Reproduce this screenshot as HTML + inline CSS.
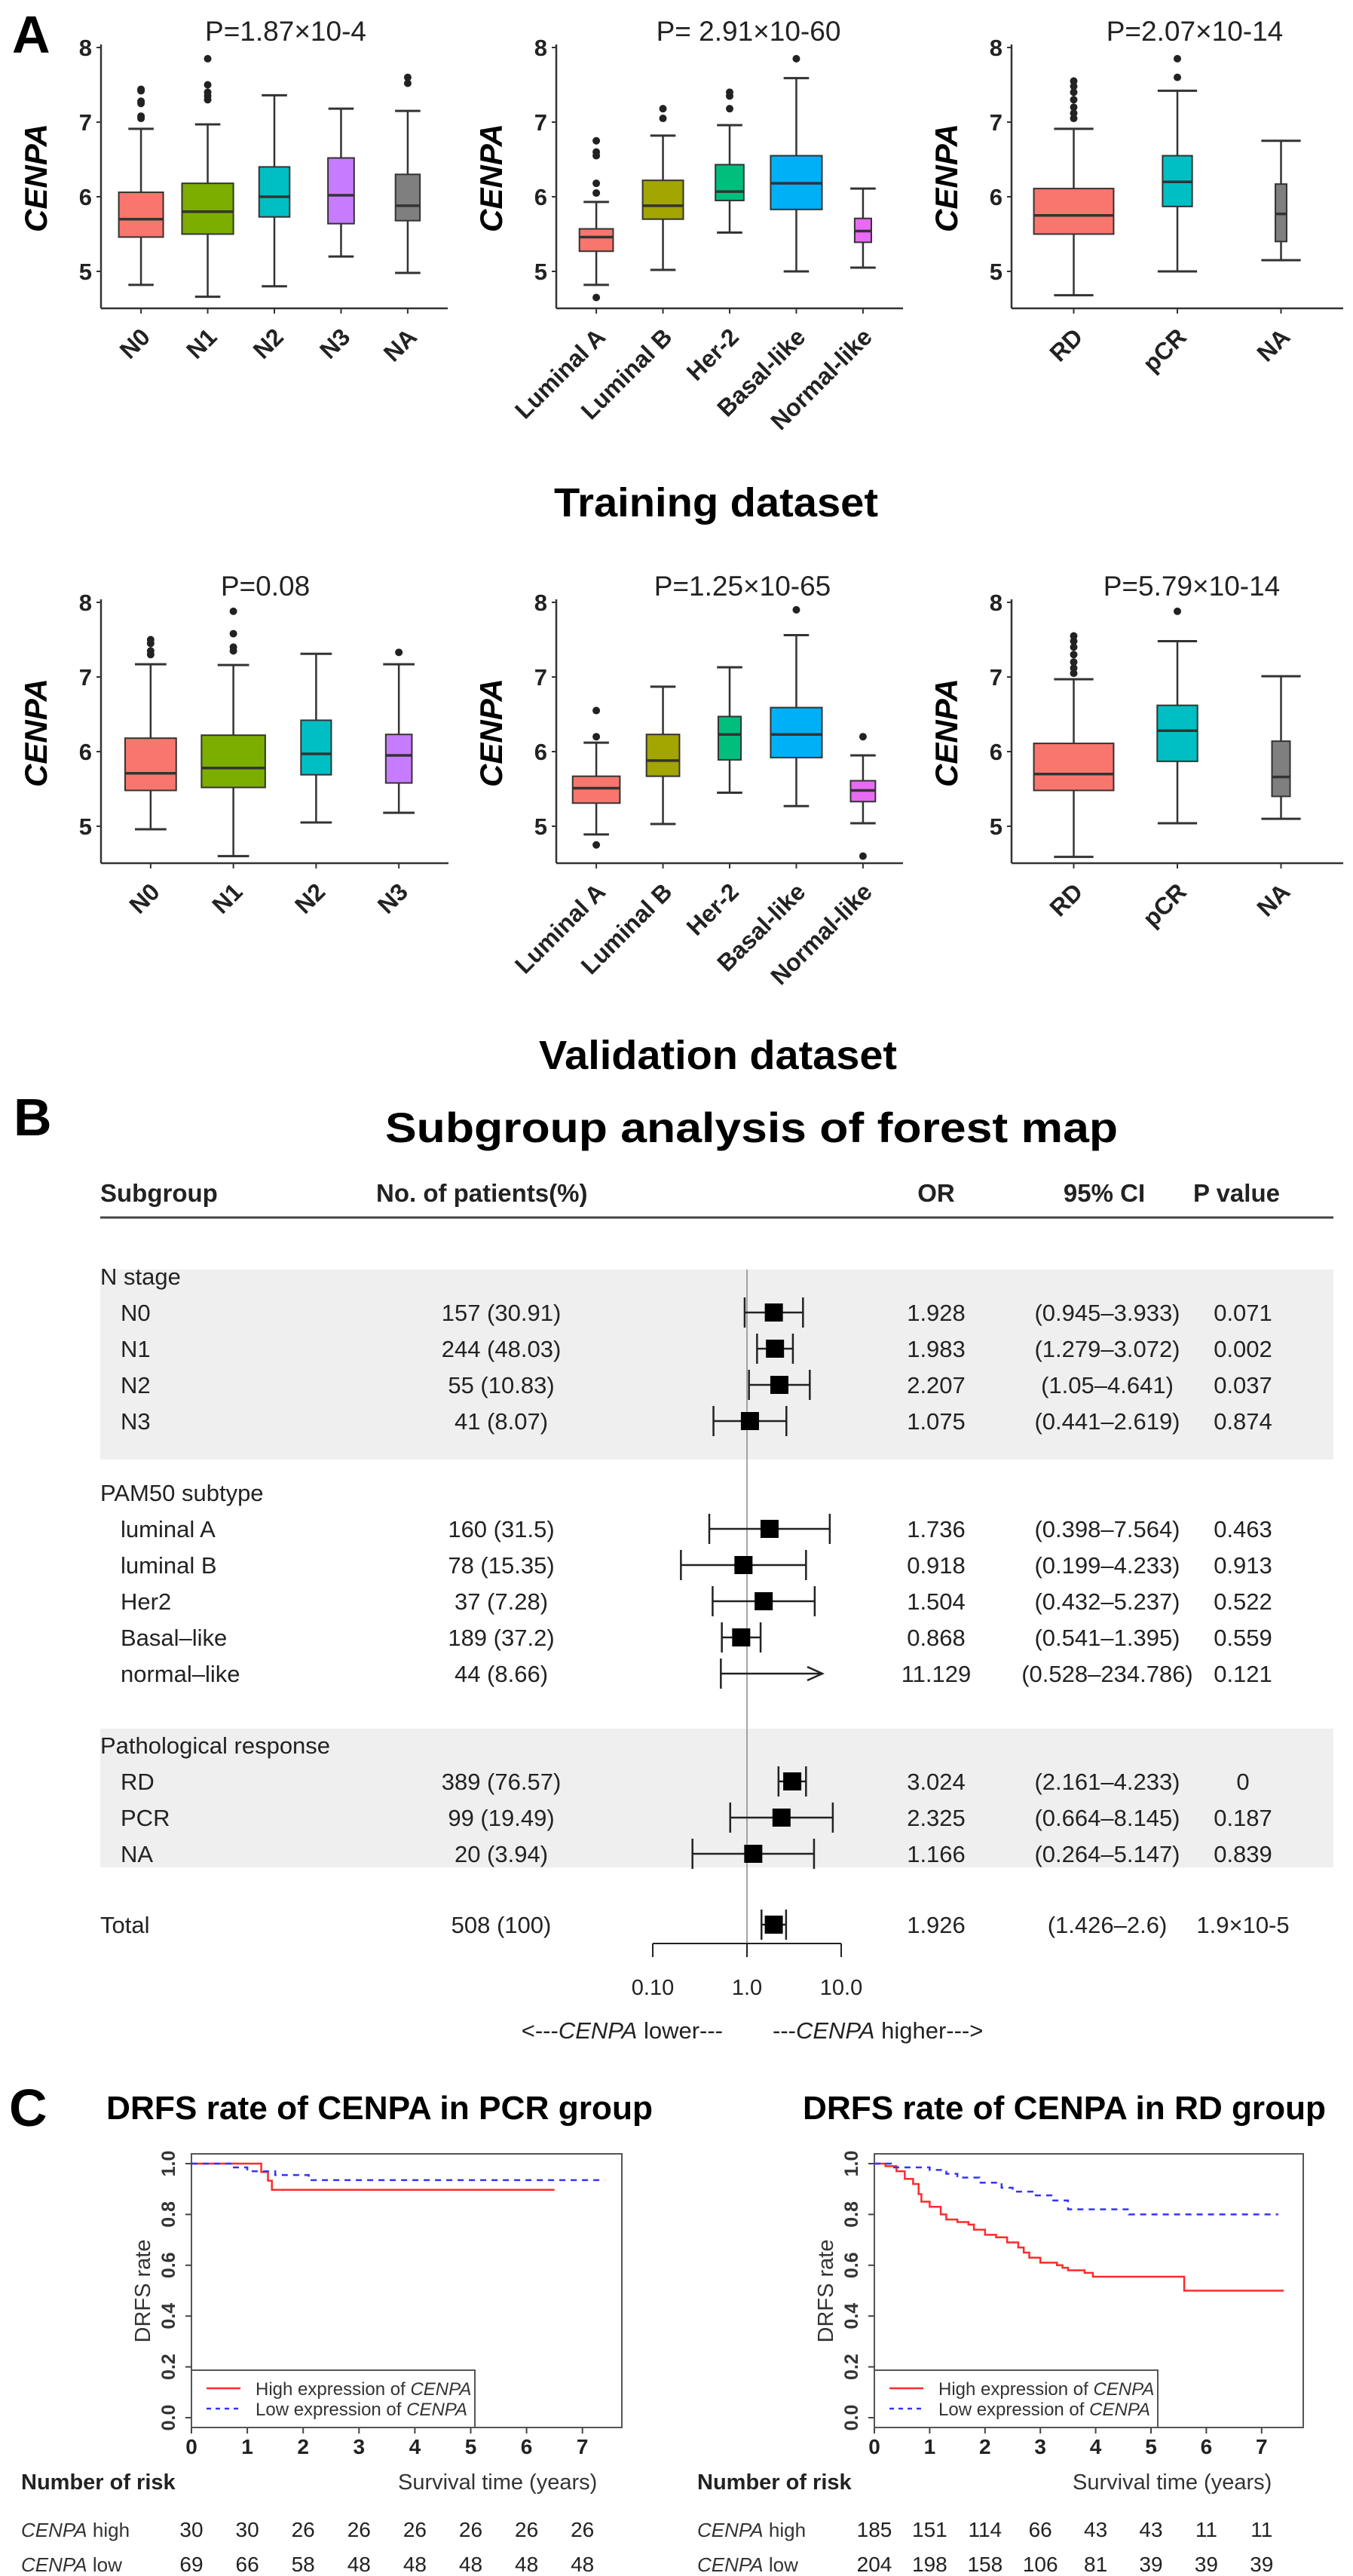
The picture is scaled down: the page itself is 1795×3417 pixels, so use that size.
<!DOCTYPE html>
<html><head><meta charset="utf-8"><title>CENPA figure</title>
<style>
html,body{margin:0;padding:0;background:#fff;}
svg{display:block;font-family:"Liberation Sans",Arial,sans-serif;}
</style></head>
<body>
<svg id="fig" xmlns="http://www.w3.org/2000/svg" width="1795" height="3417" viewBox="0 0 1795 3417"></svg>
<script>
// ===== Box plot data (training) =====
const trLeftCats=['N0','N1','N2','N3','NA'];
const trLeftN=[165,220,78,57,50];
const trLeftLo=[4.82,4.66,4.80,5.20,4.98];
const trLeftQ1=[5.46,5.50,5.73,5.64,5.68];
const trLeftMed=[5.70,5.80,6.00,6.02,5.88];
const trLeftQ3=[6.06,6.18,6.40,6.52,6.30];
const trLeftHi=[6.91,6.97,7.36,7.18,7.15];
const trLeftOut=[[7.05,7.08,7.25,7.28,7.42,7.44],[7.30,7.35,7.40,7.50,7.85],[],[],[7.52,7.60]];

const trMidCats=['Luminal A','Luminal B','Her-2','Basal-like','Normal-like'];
const trMidN=[82,119,58,190,20];
const trMidLo=[4.82,5.02,5.52,5.00,5.05];
const trMidQ1=[5.27,5.70,5.95,5.83,5.39];
const trMidMed=[5.46,5.88,6.07,6.18,5.54];
const trMidQ3=[5.57,6.22,6.43,6.55,5.71];
const trMidHi=[5.93,6.82,6.96,7.59,6.11];
const trMidOut=[[4.65,6.05,6.18,6.55,6.60,6.75],[7.05,7.18],[7.18,7.35,7.40],[7.85],[]];

const trRightCats=['RD','pCR','NA'];
const trRightN=[400,55,8];
const trRightLo=[4.68,5.00,5.15];
const trRightQ1=[5.50,5.87,5.40];
const trRightMed=[5.75,6.20,5.77];
const trRightQ3=[6.11,6.55,6.17];
const trRightHi=[6.91,7.42,6.75];
const trRightOut=[[7.05,7.12,7.20,7.30,7.40,7.48,7.55],[7.60,7.85],[]];

// ===== Box plot data (validation) =====
const vaLeftCats=['N0','N1','N2','N3'];
const vaLeftN=[157,244,55,41];
const vaLeftLo=[4.96,4.60,5.05,5.18];
const vaLeftQ1=[5.48,5.52,5.69,5.58];
const vaLeftMed=[5.71,5.78,5.97,5.95];
const vaLeftQ3=[6.18,6.22,6.42,6.23];
const vaLeftHi=[7.17,7.16,7.31,7.17];
const vaLeftOut=[[7.30,7.35,7.45,7.50],[7.35,7.40,7.58,7.88],[],[7.33]];

const vaMidCats=['Luminal A','Luminal B','Her-2','Basal-like','Normal-like'];
const vaMidN=[160,78,37,189,44];
const vaMidLo=[4.89,5.03,5.45,5.27,5.04];
const vaMidQ1=[5.31,5.67,5.89,5.92,5.33];
const vaMidMed=[5.51,5.88,6.23,6.23,5.48];
const vaMidQ3=[5.67,6.23,6.47,6.59,5.61];
const vaMidHi=[6.12,6.87,7.13,7.56,5.95];
const vaMidOut=[[4.75,6.20,6.55],[],[],[7.90],[6.20,4.60]];

const vaRightCats=['RD','pCR','NA'];
const vaRightN=[389,99,20];
const vaRightLo=[4.59,5.04,5.10];
const vaRightQ1=[5.48,5.87,5.40];
const vaRightMed=[5.70,6.28,5.66];
const vaRightQ3=[6.11,6.62,6.14];
const vaRightHi=[6.97,7.48,7.01];
const vaRightOut=[[7.05,7.12,7.20,7.30,7.40,7.48,7.55],[7.88],[]];

const boxTicks=[5,6,7,8];

// ===== Forest plot data =====
const fpLabels=['N0','N1','N2','N3','luminal A','luminal B','Her2','Basal\u2013like','normal\u2013like','RD','PCR','NA','Total'];
const fpCounts=['157 (30.91)','244 (48.03)','55 (10.83)','41 (8.07)','160 (31.5)','78 (15.35)','37 (7.28)','189 (37.2)','44 (8.66)','389 (76.57)','99 (19.49)','20 (3.94)','508 (100)'];
const fpOR=[1.928,1.983,2.207,1.075,1.736,0.918,1.504,0.868,11.129,3.024,2.325,1.166,1.926];
const fpLo=[0.945,1.279,1.05,0.441,0.398,0.199,0.432,0.541,0.528,2.161,0.664,0.264,1.426];
const fpHi=[3.933,3.072,4.641,2.619,7.564,4.233,5.237,1.395,234.786,4.233,8.145,5.147,2.6];
const fpORText=['1.928','1.983','2.207','1.075','1.736','0.918','1.504','0.868','11.129','3.024','2.325','1.166','1.926'];
const fpCIText=['(0.945\u20133.933)','(1.279\u20133.072)','(1.05\u20134.641)','(0.441\u20132.619)','(0.398\u20137.564)','(0.199\u20134.233)','(0.432\u20135.237)','(0.541\u20131.395)','(0.528\u2013234.786)','(2.161\u20134.233)','(0.664\u20138.145)','(0.264\u20135.147)','(1.426\u20132.6)'];
const fpPText=['0.071','0.002','0.037','0.874','0.463','0.913','0.522','0.559','0.121','0','0.187','0.839','1.9\u00d710-5'];
const fpGroups=['N stage','PAM50 subtype','Pathological response'];
const fpGroupSizes=[4,5,3];
const fpTicks=[0.1,1,10];
const fpTickLabels=['0.10','1.0','10.0'];

// ===== KM data =====
const kmPcrHighT=[0,1.25,1.37,1.44,6.5];
const kmPcrHighS=[1,0.967,0.933,0.897,0.897];
const kmPcrLowT=[0,0.7,1.0,1.5,2.1,7.4];
const kmPcrLowS=[1,0.985,0.97,0.955,0.935,0.935];
const kmRdHighT=[0,0.2,0.4,0.55,0.7,0.8,0.85,1.0,1.2,1.3,1.5,1.7,1.8,2.0,2.2,2.4,2.6,2.7,2.8,3.0,3.3,3.4,3.5,3.8,3.95,5.6,7.4];
const kmRdHighS=[1,0.99,0.97,0.94,0.92,0.88,0.85,0.83,0.80,0.78,0.77,0.76,0.74,0.72,0.71,0.69,0.67,0.65,0.63,0.61,0.60,0.59,0.58,0.57,0.555,0.50,0.50];
const kmRdLowT=[0,0.3,1.0,1.3,1.5,1.9,2.3,2.5,2.9,3.2,3.5,4.6,7.3];
const kmRdLowS=[1,0.985,0.975,0.96,0.945,0.925,0.905,0.89,0.875,0.855,0.82,0.80,0.80];
const kmYTicks=[0,0.2,0.4,0.6,0.8,1.0];
const kmYTickLabels=['0.0','0.2','0.4','0.6','0.8','1.0'];
const kmXTicks=[0,1,2,3,4,5,6,7];
const kmPcrRiskHigh=[30,30,26,26,26,26,26,26];
const kmPcrRiskLow=[69,66,58,48,48,48,48,48];
const kmRdRiskHigh=[185,151,114,66,43,43,11,11];
const kmRdRiskLow=[204,198,158,106,81,39,39,39];

const NS='http://www.w3.org/2000/svg';
const svg=document.getElementById('fig');
function mk(tag,attrs,parent){const e=document.createElementNS(NS,tag);for(const k in attrs)e.setAttribute(k,attrs[k]);(parent||svg).appendChild(e);return e;}
function txt(s,attrs,parent){const e=mk('text',attrs,parent);e.textContent=s;return e;}

// ----- Panel labels -----
let t;
t=txt('A',{x:16,y:70,'font-size':70,'font-weight':'bold'});


t=txt('B',{x:18,y:1506,'font-size':70,'font-weight':'bold'});


t=txt('C',{x:12,y:2820,'font-size':70,'font-weight':'bold'});



// ----- Box plots -----
function boxPanel(name,L,cats,ns,lo,q1,med,q3,hi,outs,colors,title,titleX){
  const g=mk('g',{});
  
  
  const yv=v=>L.y8+(8-v)*L.unit;
  const nc=cats.length;
  const step=(L.x1-L.x0)/(nc+0.2);
  const xc=i=>L.x0+(i+0.6)*step;
  const nmax=Math.max(...ns);
  // axes
  let a=mk('line',{x1:L.x0,y1:L.y8-4,x2:L.x0,y2:L.axisY,stroke:'#333','stroke-width':2.5},g);
  
  
  a=mk('line',{x1:L.x0,y1:L.axisY,x2:L.x1,y2:L.axisY,stroke:'#333','stroke-width':2.5},g);
  
  
  boxTicks.forEach(v=>{
    mk('line',{x1:L.x0-6,y1:yv(v),x2:L.x0,y2:yv(v),stroke:'#333','stroke-width':2},g);
    const tl=txt(String(v),{x:L.x0-12,y:yv(v)+11,'font-size':31,'font-weight':'bold','text-anchor':'end',fill:'#222'},g);
    
    
  });
  const yl=txt('CENPA',{x:0,y:0,'font-size':42,'font-weight':'bold','font-style':'italic','text-anchor':'middle',transform:`translate(${L.x0-72},${(L.y8+L.axisY)/2}) rotate(-90)`},g);
  
  
  const tt=txt(title,{x:titleX,y:L.y8-9,'font-size':37,'text-anchor':'middle',fill:'#222'},g);
  
  
  cats.forEach((c,i)=>{
    const x=xc(i);
    const w=0.77*step*Math.sqrt(ns[i]/nmax);
    const cap=0.38*step;
    const bg=mk('g',{},g);
    
    
    mk('line',{x1:x,y1:yv(hi[i]),x2:x,y2:yv(q3[i]),stroke:'#333','stroke-width':2.5},bg);
    mk('line',{x1:x,y1:yv(q1[i]),x2:x,y2:yv(lo[i]),stroke:'#333','stroke-width':2.5},bg);
    mk('line',{x1:x-cap/2,y1:yv(hi[i]),x2:x+cap/2,y2:yv(hi[i]),stroke:'#333','stroke-width':3},bg);
    mk('line',{x1:x-cap/2,y1:yv(lo[i]),x2:x+cap/2,y2:yv(lo[i]),stroke:'#333','stroke-width':3},bg);
    mk('rect',{x:x-w/2,y:yv(q3[i]),width:w,height:yv(q1[i])-yv(q3[i]),fill:colors[i],stroke:'#333','stroke-width':2},bg);
    mk('line',{x1:x-w/2,y1:yv(med[i]),x2:x+w/2,y2:yv(med[i]),stroke:'#333','stroke-width':3.5},bg);
    outs[i].forEach(v=>{
      const d=mk('circle',{cx:x,cy:yv(v),r:5,fill:'#222'},bg);
      
      
    });
    mk('line',{x1:x,y1:L.axisY,x2:x,y2:L.axisY+7,stroke:'#333','stroke-width':2},g);
    const xl=txt(c,{x:0,y:0,'font-size':32,'font-weight':'bold','text-anchor':'end',fill:'#222',transform:`translate(${x+14},${L.axisY+40}) rotate(-45)`},g);
    
    
  });
}
const pal5=['#F8766D','#7CAE00','#00BFC4','#C77CFF','#7F7F7F'];
const palSub=['#F8766D','#A3A500','#00BF7D','#00B0F6','#E76BF3'];
const palPath=['#F8766D','#00BFC4','#7F7F7F'];
const rowT={y8:63,unit:99,axisY:409};
const rowV={y8:799,unit:99,axisY:1145};
boxPanel('training-n-stage-boxplot',{...rowT,x0:134,x1:594},trLeftCats,trLeftN,trLeftLo,trLeftQ1,trLeftMed,trLeftQ3,trLeftHi,trLeftOut,pal5,'P=1.87\u00d710-4',379);
boxPanel('training-pam50-boxplot',{...rowT,x0:738,x1:1198},trMidCats,trMidN,trMidLo,trMidQ1,trMidMed,trMidQ3,trMidHi,trMidOut,palSub,'P= 2.91\u00d710-60',993);
boxPanel('training-response-boxplot',{...rowT,x0:1342,x1:1782},trRightCats,trRightN,trRightLo,trRightQ1,trRightMed,trRightQ3,trRightHi,trRightOut,palPath,'P=2.07\u00d710-14',1585);
boxPanel('validation-n-stage-boxplot',{...rowV,x0:134,x1:595},vaLeftCats,vaLeftN,vaLeftLo,vaLeftQ1,vaLeftMed,vaLeftQ3,vaLeftHi,vaLeftOut,pal5,'P=0.08',352);
boxPanel('validation-pam50-boxplot',{...rowV,x0:738,x1:1198},vaMidCats,vaMidN,vaMidLo,vaMidQ1,vaMidMed,vaMidQ3,vaMidHi,vaMidOut,palSub,'P=1.25\u00d710-65',985);
boxPanel('validation-response-boxplot',{...rowV,x0:1342,x1:1782},vaRightCats,vaRightN,vaRightLo,vaRightQ1,vaRightMed,vaRightQ3,vaRightHi,vaRightOut,palPath,'P=5.79\u00d710-14',1581);

t=txt('Training dataset',{x:735,y:685,'font-size':54,'font-weight':'bold',textLength:430,lengthAdjust:'spacingAndGlyphs'});


t=txt('Validation dataset',{x:715,y:1418,'font-size':54,'font-weight':'bold',textLength:475,lengthAdjust:'spacingAndGlyphs'});



// ----- Forest plot -----
const fg=mk('g',{});


t=txt('Subgroup analysis of forest map',{x:511,y:1515,'font-size':56,'font-weight':'bold',textLength:972,lengthAdjust:'spacingAndGlyphs'},fg);


const fx=v=>991+125*Math.log10(v);
const FS=31;
const hdrs=[['Subgroup',133,'start'],['No. of patients(%)',499,'start'],['OR',1242,'middle'],['95% CI',1465,'middle'],['P value',1583,'start']];
hdrs.forEach(h=>{const e=txt(h[0],{x:h[1],y:1594,'font-size':33,'font-weight':'bold','text-anchor':h[2],fill:'#222'},fg);

});
let hl=mk('line',{x1:133,y1:1615,x2:1769,y2:1615,stroke:'#444','stroke-width':3},fg);


// layout rows
const shadeSpec=[[1684,1936],null,[2293,2477]];
let y=1693, idx=0;
const rowY=[];const groupY=[];
fpGroups.forEach((gname,gi)=>{
  if(gi>0) y+=95;
  groupY.push(y);
  for(let k=0;k<fpGroupSizes[gi];k++){y+=48;rowY.push(y);}
});
const totalY=y+94; rowY.push(totalY);
shadeSpec.forEach((s,gi)=>{if(!s)return;const r=mk('rect',{x:133,y:s[0],width:1636,height:s[1]-s[0],fill:'#efefef'},fg);

});
let ref=mk('line',{x1:fx(1),y1:1684,x2:fx(1),y2:2578,stroke:'#888','stroke-width':1.5},fg);


fpGroups.forEach((gname,gi)=>{const e=txt(gname,{x:133,y:groupY[gi]+11,'font-size':FS,fill:'#222'},fg);

});
fpLabels.forEach((lab,i)=>{
  const ry=rowY[i];const isTot=i===fpLabels.length-1;
  const rg=mk('g',{},fg);
  
  
  txt(lab,{x:isTot?133:160,y:ry+11,'font-size':FS,fill:'#222'},rg);
  txt(fpCounts[i],{x:665,y:ry+11,'font-size':FS,'text-anchor':'middle',fill:'#222'},rg);
  txt(fpORText[i],{x:1242,y:ry+11,'font-size':FS,'text-anchor':'middle',fill:'#222'},rg);
  txt(fpCIText[i],{x:1469,y:ry+11,'font-size':FS,'text-anchor':'middle',fill:'#222'},rg);
  txt(fpPText[i],{x:1649,y:ry+11,'font-size':FS,'text-anchor':'middle',fill:'#222'},rg);
  const xl=fx(fpLo[i]);
  const clipped=fpHi[i]>10;
  const xh=clipped?fx(10)-25:fx(fpHi[i]);
  mk('line',{x1:xl,y1:ry,x2:xh,y2:ry,stroke:'#222','stroke-width':2.5},rg);
  mk('line',{x1:xl,y1:ry-20,x2:xl,y2:ry+20,stroke:'#222','stroke-width':2.5},rg);
  if(clipped){
    mk('polyline',{points:`${xh-20},${ry-9} ${xh},${ry} ${xh-20},${ry+9}`,fill:'none',stroke:'#222','stroke-width':2.5},rg);
  } else {
    mk('line',{x1:xh,y1:ry-20,x2:xh,y2:ry+20,stroke:'#222','stroke-width':2.5},rg);
    const sq=mk('rect',{x:fx(fpOR[i])-12,y:ry-12,width:24,height:24,fill:'#000'},rg);
    
    
  }
});
let fa=mk('line',{x1:fx(0.1),y1:2578,x2:fx(10),y2:2578,stroke:'#222','stroke-width':2},fg);


fpTicks.forEach((v,i)=>{
  mk('line',{x1:fx(v),y1:2578,x2:fx(v),y2:2596,stroke:'#222','stroke-width':2},fg);
  const e=txt(fpTickLabels[i],{x:fx(v),y:2646,'font-size':29,'text-anchor':'middle',fill:'#222'},fg);
  
  
});
t=txt('',{x:959,y:2704,'font-size':31,'text-anchor':'end',fill:'#222'},fg);
t.innerHTML='&lt;---<tspan font-style="italic">CENPA</tspan> lower---';


t=txt('',{x:1025,y:2704,'font-size':31,fill:'#222'},fg);
t.innerHTML='---<tspan font-style="italic">CENPA</tspan> higher---&gt;';



// ----- KM plots -----
function kmPanel(name,L,title,highT,highS,lowT,lowS,riskH,riskL){
  const g=mk('g',{});
  
  
  const kx=v=>L.x0+v*L.perYr;
  const ky=s=>3207-s*337;
  const tt=txt(title,{x:L.titleX,y:2811,'font-size':44,'font-weight':'bold',textLength:L.titleW,lengthAdjust:'spacingAndGlyphs'},g);
  
  
  const fr=mk('rect',{x:L.x0,y:2857,width:L.boxW,height:363,fill:'none',stroke:'#555','stroke-width':2},g);
  
  
  kmYTicks.forEach((v,i)=>{
    mk('line',{x1:L.x0-8,y1:ky(v),x2:L.x0,y2:ky(v),stroke:'#444','stroke-width':2},g);
    const e=txt(kmYTickLabels[i],{x:0,y:0,'font-size':25,'font-weight':'bold','text-anchor':'middle',fill:'#333',transform:`translate(${L.x0-22},${ky(v)}) rotate(-90)`},g);
    
    
  });
  const yt=txt('DRFS rate',{x:0,y:0,'font-size':29,'text-anchor':'middle',fill:'#333',transform:`translate(${L.x0-55},${3039}) rotate(-90)`},g);
  
  
  kmXTicks.forEach((v,i)=>{
    mk('line',{x1:kx(v),y1:3220,x2:kx(v),y2:3228,stroke:'#444','stroke-width':2},g);
    const e=txt(String(v),{x:kx(v),y:3255,'font-size':28,'font-weight':'bold','text-anchor':'middle',fill:'#222'},g);
    
    
    const a=txt(String(riskH[i]),{x:kx(v),y:3365,'font-size':28,'text-anchor':'middle',fill:'#222'},g);
    
    
    const b=txt(String(riskL[i]),{x:kx(v),y:3411,'font-size':28,'text-anchor':'middle',fill:'#222'},g);
    
    
  });
  function stepPath(T,S){let d=`M${kx(T[0])},${ky(S[0])}`;for(let i=1;i<T.length;i++){d+=` H${kx(T[i])} V${ky(S[i])}`;}return d;}
  const hp=mk('path',{d:stepPath(highT,highS),fill:'none',stroke:'#FF2A2A','stroke-width':2.5},g);
  
  
  const lp=mk('path',{d:stepPath(lowT,lowS),fill:'none',stroke:'#3333FF','stroke-width':2.5,'stroke-dasharray':'8,7'},g);
  
  
  const lg=mk('g',{},g);
  
  
  mk('rect',{x:L.x0,y:3144,width:L.legW,height:76,fill:'#fff',stroke:'#555','stroke-width':2},lg);
  mk('line',{x1:L.x0+20,y1:3168,x2:L.x0+65,y2:3168,stroke:'#FF2A2A','stroke-width':2.5},lg);
  mk('line',{x1:L.x0+20,y1:3195,x2:L.x0+65,y2:3195,stroke:'#3333FF','stroke-width':2.5,'stroke-dasharray':'6,6'},lg);
  let e=txt('',{x:L.x0+85,y:3177,'font-size':24,fill:'#333'},lg);
  e.innerHTML='High expression of <tspan font-style="italic">CENPA</tspan>';
  e=txt('',{x:L.x0+85,y:3204,'font-size':24,fill:'#333'},lg);
  e.innerHTML='Low expression of <tspan font-style="italic">CENPA</tspan>';
  e=txt('Number of risk',{x:L.nrX,y:3302,'font-size':29,'font-weight':'bold',fill:'#222'},g);
  
  
  e=txt('Survival time (years)',{x:L.stX,y:3302,'font-size':29,fill:'#333'},g);
  
  
  e=txt('',{x:L.nrX,y:3365,'font-size':26,fill:'#333'},g);
  e.innerHTML='<tspan font-style="italic">CENPA</tspan> high';
  
  
  e=txt('',{x:L.nrX,y:3411,'font-size':26,fill:'#333'},g);
  e.innerHTML='<tspan font-style="italic">CENPA</tspan> low';
  
  
}
kmPanel('km-pcr-group',{x0:254,perYr:74.1,boxW:571,legW:376,titleX:141,titleW:725,nrX:28,stX:528},'DRFS rate of CENPA in PCR group',kmPcrHighT,kmPcrHighS,kmPcrLowT,kmPcrLowS,kmPcrRiskHigh,kmPcrRiskLow);
kmPanel('km-rd-group',{x0:1160,perYr:73.4,boxW:569,legW:376,titleX:1065,titleW:694,nrX:925,stX:1423},'DRFS rate of CENPA in RD group',kmRdHighT,kmRdHighS,kmRdLowT,kmRdLowS,kmRdRiskHigh,kmRdRiskLow);
</script>
</body></html>
